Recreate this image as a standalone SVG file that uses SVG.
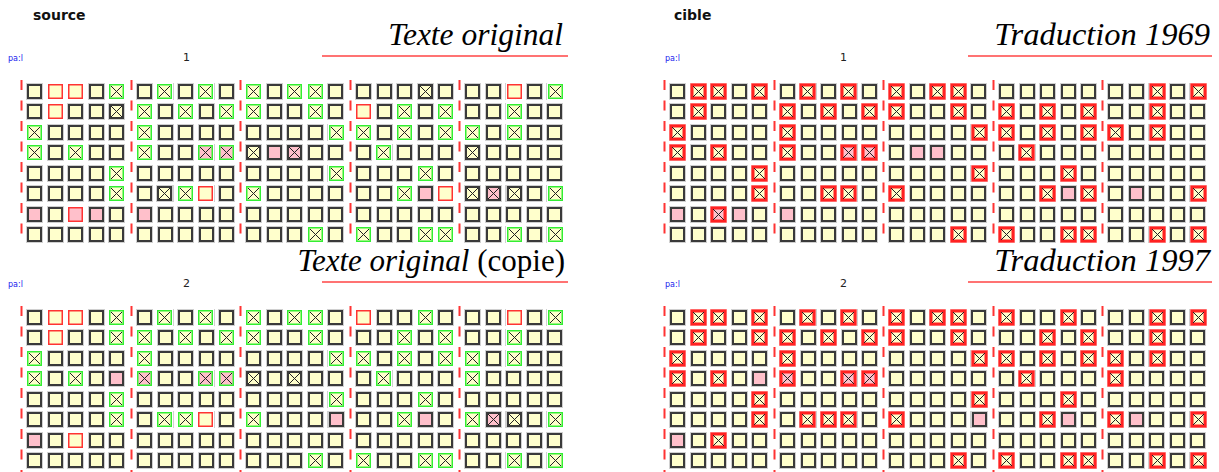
<svg xmlns="http://www.w3.org/2000/svg" xmlns:xlink="http://www.w3.org/1999/xlink" width="1219" height="472" viewBox="0 0 1219 472">
<style>
.hd{font-family:"DejaVu Sans",sans-serif;font-weight:bold;font-size:14px;fill:#111}
.lab{font-family:"DejaVu Sans",sans-serif;font-size:8px;fill:#2020ee}
.num{font-family:"DejaVu Sans",sans-serif;font-size:11px;fill:#222}
.ttl{font-family:"Liberation Serif",serif;font-size:31.5px;fill:#000}
.ttb{font-family:"Liberation Serif",serif;font-size:31px;fill:#000}
.ttr{font-family:"Liberation Serif",serif;font-size:32.5px;fill:#000;font-style:italic}
.ul{stroke:#ff4444;stroke-width:1.6}
.dash{stroke:#ff3333;stroke-width:2;stroke-dasharray:10 10.5}
</style>
<defs>
<g id="n"><rect x="-0.5" y="-0.5" width="16" height="16" fill="none" stroke="#d0d0d0" stroke-width="1"/><rect x="1" y="1" width="13" height="13" fill="#ffffcc" stroke="#3a3a3a" stroke-width="2"/></g>
<path id="xx" d="M2,2L13,13M13,2L2,13" stroke="#222" stroke-width="1" fill="none"/>
<rect id="bg" x="-1" y="-1" width="17" height="17" fill="#fff"/>
<g id="r"><use href="#bg"/><rect x="0.75" y="0.75" width="13.5" height="13.5" fill="#ffffcc" stroke="#ff3333" stroke-width="1.5"/></g>
<g id="g"><use href="#bg"/><rect x="0.75" y="0.75" width="13.5" height="13.5" fill="#ffffcc" stroke="#33ee33" stroke-width="1.5"/><use href="#xx"/></g>
<g id="x"><use href="#n"/><use href="#xx"/></g>
<g id="p"><use href="#bg"/><rect x="-0.5" y="-0.5" width="16" height="16" fill="none" stroke="#d0d0d0" stroke-width="1"/><rect x="1" y="1" width="13" height="13" fill="#ffc0cb" stroke="#3a3a3a" stroke-width="2"/></g>
<g id="P"><use href="#bg"/><rect x="0.75" y="0.75" width="13.5" height="13.5" fill="#ffc0cb" stroke="#ff3333" stroke-width="1.5"/></g>
<g id="G"><use href="#bg"/><rect x="0.75" y="0.75" width="13.5" height="13.5" fill="#ffc0cb" stroke="#33ee33" stroke-width="1.5"/><use href="#xx"/></g>
<g id="X"><use href="#p"/><use href="#xx"/></g>
<g id="R"><use href="#bg"/><rect x="-0.5" y="-0.5" width="16" height="16" fill="none" stroke="#ffb0b0" stroke-width="1"/><rect x="1" y="1" width="13" height="13" fill="#ffffcc" stroke="#ff2222" stroke-width="3"/><use href="#xx"/></g>
<g id="Q"><use href="#bg"/><rect x="-0.5" y="-0.5" width="16" height="16" fill="none" stroke="#ffb0b0" stroke-width="1"/><rect x="1" y="1" width="13" height="13" fill="#ffc0cb" stroke="#ff2222" stroke-width="3"/><use href="#xx"/></g>
<g id="five"><use href="#n"/><use href="#n" x="21"/><use href="#n" x="41"/><use href="#n" x="62"/><use href="#n" x="82"/></g>
<g id="row"><use href="#five"/><use href="#five" x="110"/><use href="#five" x="219"/><use href="#five" x="329"/><use href="#five" x="438"/></g>
<g id="grid"><use href="#row"/><use href="#row" y="20"/><use href="#row" y="41"/><use href="#row" y="61"/><use href="#row" y="82"/><use href="#row" y="102"/><use href="#row" y="123"/><use href="#row" y="143"/></g>
<g id="dashes8"><line class="dash" x1="-5.5" y1="-4" x2="-5.5" y2="150"/><line class="dash" x1="104.5" y1="-4" x2="104.5" y2="150"/><line class="dash" x1="213.5" y1="-4" x2="213.5" y2="150"/><line class="dash" x1="323.5" y1="-4" x2="323.5" y2="150"/><line class="dash" x1="432.5" y1="-4" x2="432.5" y2="150"/></g>
<g id="dashes9"><line class="dash" x1="-5.5" y1="-4" x2="-5.5" y2="170"/><line class="dash" x1="104.5" y1="-4" x2="104.5" y2="170"/><line class="dash" x1="213.5" y1="-4" x2="213.5" y2="170"/><line class="dash" x1="323.5" y1="-4" x2="323.5" y2="170"/><line class="dash" x1="432.5" y1="-4" x2="432.5" y2="170"/></g>
</defs>
<rect width="1219" height="472" fill="#fff"/>

<g id="headers">
<text class="hd" x="33" y="20">source</text>
<text class="hd" x="674" y="20">cible</text>
<text class="lab" x="8" y="61">pa:l</text>
<text class="num" x="183" y="61">1</text>
<text class="lab" x="665" y="61">pa:l</text>
<text class="num" x="840" y="61">1</text>
<text class="lab" x="8" y="287">pa:l</text>
<text class="num" x="183" y="287">2</text>
<text class="lab" x="665" y="287">pa:l</text>
<text class="num" x="840" y="287">2</text>
</g>

<g id="titles">
<text class="ttl" x="563" y="45" text-anchor="end" font-style="italic">Texte original</text>
<line class="ul" x1="322" y1="56" x2="568" y2="56"/>
<text class="ttr" x="1210" y="45" text-anchor="end">Traduction 1969</text>
<line class="ul" x1="968" y1="56" x2="1212" y2="56"/>
<text class="ttb" x="565" y="271" text-anchor="end"><tspan font-style="italic">Texte original</tspan> (copie)</text>
<line class="ul" x1="322" y1="282" x2="568" y2="282"/>
<text class="ttr" x="1210" y="271" text-anchor="end">Traduction 1997</text>
<line class="ul" x1="968" y1="282" x2="1212" y2="282"/>
</g>

<g id="source-1" transform="translate(27,84)">
<use href="#dashes8"/><use href="#grid"/>
<g><use href="#r" x="21"/><use href="#r" x="41"/><use href="#g" x="82"/><use href="#g" x="130"/><use href="#g" x="171"/><use href="#g" x="219"/><use href="#g" x="260"/><use href="#g" x="281"/><use href="#x" x="391"/><use href="#r" x="480"/><use href="#g" x="521"/></g>
<g transform="translate(0,20)"><use href="#r" x="21"/><use href="#x" x="82"/><use href="#g" x="110"/><use href="#g" x="151"/><use href="#g" x="192"/><use href="#g" x="219"/><use href="#g" x="281"/><use href="#r" x="329"/><use href="#g" x="370"/><use href="#g" x="411"/><use href="#g" x="480"/></g>
<g transform="translate(0,41)"><use href="#g" x="0"/><use href="#g" x="110"/><use href="#g" x="302"/><use href="#g" x="329"/><use href="#g" x="370"/><use href="#g" x="411"/><use href="#g" x="438"/><use href="#g" x="480"/></g>
<g transform="translate(0,61)"><use href="#g" x="0"/><use href="#g" x="41"/><use href="#g" x="110"/><use href="#G" x="171"/><use href="#G" x="192"/><use href="#x" x="219"/><use href="#p" x="240"/><use href="#X" x="260"/><use href="#g" x="349"/><use href="#x" x="438"/></g>
<g transform="translate(0,82)"><use href="#g" x="82"/><use href="#g" x="302"/><use href="#g" x="391"/></g>
<g transform="translate(0,102)"><use href="#g" x="82"/><use href="#x" x="130"/><use href="#g" x="151"/><use href="#r" x="171"/><use href="#g" x="219"/><use href="#g" x="370"/><use href="#p" x="391"/><use href="#r" x="411"/><use href="#x" x="438"/><use href="#X" x="459"/><use href="#x" x="480"/><use href="#g" x="521"/></g>
<g transform="translate(0,123)"><use href="#p" x="0"/><use href="#P" x="41"/><use href="#p" x="62"/><use href="#p" x="110"/></g>
<g transform="translate(0,143)"><use href="#g" x="281"/><use href="#g" x="329"/><use href="#g" x="391"/><use href="#g" x="411"/><use href="#g" x="480"/><use href="#g" x="521"/></g>
</g>

<g id="source-2" transform="translate(27,310)">
<use href="#dashes9"/><use href="#grid"/>
<g><use href="#r" x="21"/><use href="#r" x="41"/><use href="#g" x="82"/><use href="#g" x="130"/><use href="#g" x="171"/><use href="#g" x="219"/><use href="#g" x="260"/><use href="#g" x="281"/><use href="#r" x="329"/><use href="#g" x="391"/><use href="#r" x="480"/><use href="#g" x="521"/></g>
<g transform="translate(0,20)"><use href="#r" x="21"/><use href="#g" x="82"/><use href="#g" x="110"/><use href="#g" x="151"/><use href="#g" x="192"/><use href="#g" x="219"/><use href="#g" x="281"/><use href="#g" x="370"/><use href="#g" x="411"/><use href="#g" x="480"/></g>
<g transform="translate(0,41)"><use href="#g" x="0"/><use href="#g" x="110"/><use href="#g" x="302"/><use href="#g" x="329"/><use href="#g" x="370"/><use href="#g" x="411"/><use href="#g" x="438"/><use href="#g" x="480"/></g>
<g transform="translate(0,61)"><use href="#g" x="0"/><use href="#g" x="41"/><use href="#p" x="82"/><use href="#G" x="110"/><use href="#G" x="171"/><use href="#G" x="192"/><use href="#x" x="219"/><use href="#x" x="260"/><use href="#g" x="349"/><use href="#g" x="438"/></g>
<g transform="translate(0,82)"><use href="#g" x="82"/><use href="#g" x="302"/><use href="#g" x="391"/></g>
<g transform="translate(0,102)"><use href="#g" x="82"/><use href="#g" x="130"/><use href="#g" x="151"/><use href="#r" x="171"/><use href="#g" x="219"/><use href="#p" x="302"/><use href="#g" x="370"/><use href="#p" x="391"/><use href="#g" x="438"/><use href="#X" x="459"/><use href="#x" x="480"/><use href="#g" x="521"/></g>
<g transform="translate(0,123)"><use href="#p" x="0"/><use href="#r" x="41"/></g>
<g transform="translate(0,143)"><use href="#g" x="281"/><use href="#g" x="329"/><use href="#g" x="391"/><use href="#g" x="411"/><use href="#g" x="480"/><use href="#g" x="521"/></g>
</g>

<g id="cible-1" transform="translate(670,84)">
<use href="#dashes8"/><use href="#grid"/>
<g><use href="#R" x="21"/><use href="#R" x="41"/><use href="#R" x="82"/><use href="#R" x="130"/><use href="#R" x="171"/><use href="#R" x="219"/><use href="#R" x="260"/><use href="#R" x="281"/><use href="#R" x="480"/><use href="#R" x="521"/></g>
<g transform="translate(0,20)"><use href="#R" x="21"/><use href="#R" x="110"/><use href="#R" x="151"/><use href="#R" x="192"/><use href="#R" x="219"/><use href="#R" x="281"/><use href="#R" x="329"/><use href="#R" x="370"/><use href="#R" x="411"/><use href="#R" x="480"/></g>
<g transform="translate(0,41)"><use href="#R" x="0"/><use href="#R" x="110"/><use href="#R" x="302"/><use href="#R" x="329"/><use href="#R" x="370"/><use href="#R" x="411"/><use href="#R" x="438"/><use href="#R" x="480"/></g>
<g transform="translate(0,61)"><use href="#R" x="0"/><use href="#R" x="41"/><use href="#R" x="110"/><use href="#Q" x="171"/><use href="#Q" x="192"/><use href="#p" x="240"/><use href="#p" x="260"/><use href="#R" x="349"/></g>
<g transform="translate(0,82)"><use href="#R" x="82"/><use href="#R" x="302"/><use href="#R" x="391"/></g>
<g transform="translate(0,102)"><use href="#R" x="82"/><use href="#R" x="151"/><use href="#R" x="171"/><use href="#R" x="219"/><use href="#R" x="370"/><use href="#p" x="391"/><use href="#R" x="411"/><use href="#p" x="459"/><use href="#R" x="521"/></g>
<g transform="translate(0,123)"><use href="#p" x="0"/><use href="#Q" x="41"/><use href="#p" x="62"/><use href="#p" x="110"/></g>
<g transform="translate(0,143)"><use href="#R" x="281"/><use href="#R" x="329"/><use href="#R" x="391"/><use href="#R" x="411"/><use href="#R" x="480"/><use href="#R" x="521"/></g>
</g>

<g id="cible-2" transform="translate(670,310)">
<use href="#dashes9"/><use href="#grid"/>
<g><use href="#R" x="21"/><use href="#R" x="41"/><use href="#R" x="82"/><use href="#R" x="130"/><use href="#R" x="171"/><use href="#R" x="219"/><use href="#R" x="260"/><use href="#R" x="281"/><use href="#R" x="329"/><use href="#R" x="391"/><use href="#R" x="480"/><use href="#R" x="521"/></g>
<g transform="translate(0,20)"><use href="#R" x="21"/><use href="#R" x="82"/><use href="#R" x="110"/><use href="#R" x="151"/><use href="#R" x="192"/><use href="#R" x="219"/><use href="#R" x="281"/><use href="#R" x="370"/><use href="#R" x="411"/><use href="#R" x="480"/></g>
<g transform="translate(0,41)"><use href="#R" x="0"/><use href="#R" x="110"/><use href="#R" x="302"/><use href="#R" x="329"/><use href="#R" x="370"/><use href="#R" x="411"/><use href="#R" x="438"/><use href="#R" x="480"/></g>
<g transform="translate(0,61)"><use href="#R" x="0"/><use href="#R" x="41"/><use href="#p" x="82"/><use href="#Q" x="110"/><use href="#Q" x="171"/><use href="#Q" x="192"/><use href="#R" x="349"/><use href="#R" x="438"/></g>
<g transform="translate(0,82)"><use href="#R" x="82"/><use href="#R" x="302"/><use href="#R" x="391"/></g>
<g transform="translate(0,102)"><use href="#R" x="82"/><use href="#R" x="130"/><use href="#R" x="151"/><use href="#R" x="171"/><use href="#R" x="219"/><use href="#p" x="302"/><use href="#R" x="370"/><use href="#p" x="391"/><use href="#R" x="438"/><use href="#p" x="459"/><use href="#R" x="521"/></g>
<g transform="translate(0,123)"><use href="#p" x="0"/><use href="#R" x="41"/></g>
<g transform="translate(0,143)"><use href="#R" x="281"/><use href="#R" x="329"/><use href="#R" x="391"/><use href="#R" x="411"/><use href="#R" x="480"/><use href="#R" x="521"/></g>
</g>
</svg>
